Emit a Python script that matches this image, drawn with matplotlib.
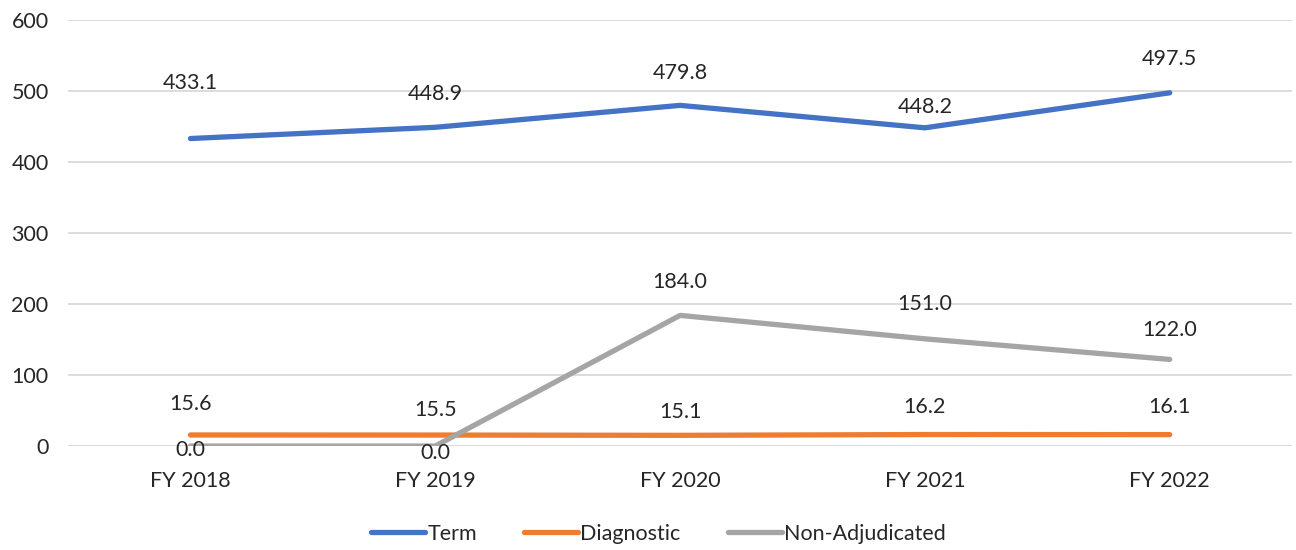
import matplotlib
matplotlib.use("Agg")
import matplotlib.pyplot as plt

years = ["FY 2018", "FY 2019", "FY 2020", "FY 2021", "FY 2022"]
term = [433.1, 448.9, 479.8, 448.2, 497.5]
diagnostic = [15.6, 15.5, 15.1, 16.2, 16.1]
non_adjudicated = [0.0, 0.0, 184.0, 151.0, 122.0]

# vertical label offsets (points, positive = up) for each series
term_off = [40, 24, 23, 15, 24]
diag_off = [22, 18, 17, 20, 20]
nonadj_off = [-3, -5, 24, 25, 21]

plt.rcParams["font.family"] = ["Lato", "DejaVu Sans"]
FS = 15.5
TXT = "#262626"

fig = plt.figure(figsize=(12.96, 5.5), dpi=100)
ax = fig.add_axes([0.0525, 0.189, 0.9445, 0.7746])

x = list(range(len(years)))
series = [
    ("Term", term, "#4472C4", term_off),
    ("Diagnostic", diagnostic, "#ED7D31", diag_off),
    ("Non-Adjudicated", non_adjudicated, "#A5A5A5", nonadj_off),
]
for name, vals, col, offs in series:
    ax.plot(x, vals, color=col, lw=3.8, solid_capstyle="round", label=name, zorder=3)

for name, vals, col, offs in series:
    for xi, v, o in zip(x, vals, offs):
        ax.annotate(f"{v:.1f}", (xi, v), xytext=(0, o), textcoords="offset points",
                    ha="center", va="center", fontsize=FS, color=TXT, zorder=4)

ax.set_xlim(-0.5, len(years) - 0.5)
ax.set_ylim(0, 600)
ax.set_yticks(range(0, 601, 100))
ax.set_xticks(x)
ax.set_xticklabels(years)
ax.grid(axis="y", color="#D9D9D9", lw=1.3, zorder=0)
ax.set_axisbelow(True)
for s in ax.spines.values():
    s.set_visible(False)
ax.tick_params(length=0, labelsize=FS, colors=TXT, pad=14)
ax.tick_params(axis="x", pad=18)

leg = fig.legend(loc="center", bbox_to_anchor=(0.508, 0.03), ncol=3, frameon=False,
                 fontsize=FS, handlelength=2.5, handletextpad=0.1, columnspacing=2.2)
for t in leg.get_texts():
    t.set_color(TXT)

fig.savefig("out.png", dpi=100)
